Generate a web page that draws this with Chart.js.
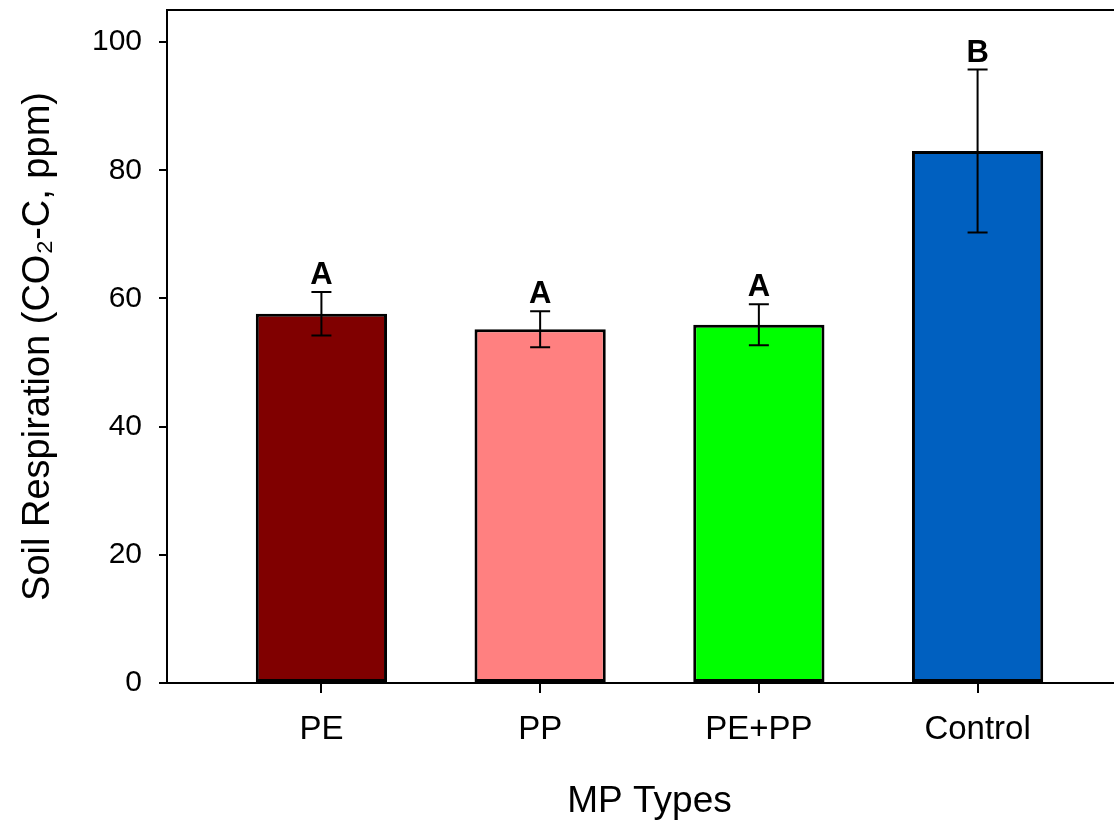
<!DOCTYPE html>
<html lang="en">
<head>
    <meta charset="UTF-8">
    <title>Soil Respiration by MP Type</title>
    <style>
        html, body {
            margin: 0;
            padding: 0;
            background: white;
            overflow: hidden;
        }
        #chart {
            display: block;
        }
    </style>
    <script src="https://cdn.jsdelivr.net/npm/chart.js"></script>
</head>
<body>

    <canvas id="chart" width="1132" height="827"></canvas>

    <script>
        // values
        const categories = ['PE', 'PP', 'PE+PP', 'Control'];
        const meanValues = [57.6, 55.2, 55.9, 83.0];
        const sdValues = [3.4, 2.8, 3.2, 12.7];
        const letters = ['A', 'A', 'A', 'B'];
        const barColors = ['#800000', '#ff8080', '#00ff00', '#0060c0'];
        const yTicks = [0, 20, 40, 60, 80, 100];

        const fontFamily = 'Arial, "Liberation Sans", sans-serif';

        // error bars + significance letters, drawn on top of the bars
        const errorBarPlugin = {
            id: 'errorBars',
            afterDatasetsDraw(chart) {
                const ctx = chart.ctx;
                const x = chart.scales.x;
                const y = chart.scales.y;
                ctx.save();
                ctx.strokeStyle = '#000';
                ctx.lineWidth = 2;
                ctx.fillStyle = '#000';
                ctx.font = 'bold 31px ' + fontFamily;
                ctx.textAlign = 'center';
                ctx.textBaseline = 'alphabetic';
                meanValues.forEach((m, i) => {
                    const px = x.getPixelForValue(i + 1);
                    const top = y.getPixelForValue(m + sdValues[i]);
                    const bot = y.getPixelForValue(m - sdValues[i]);
                    ctx.beginPath();
                    ctx.moveTo(px, top);
                    ctx.lineTo(px, bot);
                    ctx.moveTo(px - 10, top);
                    ctx.lineTo(px + 10, top);
                    ctx.moveTo(px - 10, bot);
                    ctx.lineTo(px + 10, bot);
                    ctx.stroke();
                    ctx.fillText(letters[i], px, top - 8);
                });
                // top frame line
                const area = chart.chartArea;
                ctx.beginPath();
                ctx.moveTo(area.left, area.top);
                ctx.lineTo(area.right, area.top);
                ctx.stroke();
                ctx.restore();
            }
        };

        new Chart(document.getElementById('chart'), {
            type: 'bar',
            data: {
                datasets: [{
                    data: meanValues.map((v, i) => ({ x: i + 1, y: v })),
                    backgroundColor: barColors,
                    borderColor: '#000',
                    borderWidth: 3,
                    borderSkipped: false,
                    barPercentage: 0.6,
                    categoryPercentage: 1.0
                }]
            },
            options: {
                responsive: false,
                animation: false,
                events: [],
                layout: { padding: { top: 10, left: 0, right: 0, bottom: 0 } },
                plugins: {
                    legend: { display: false },
                    tooltip: { enabled: false }
                },
                scales: {
                    x: {
                        type: 'linear',
                        offset: false,
                        min: 0.294,
                        max: 4.706,
                        afterBuildTicks: (scale) => {
                            scale.ticks = categories.map((_, i) => ({ value: i + 1 }));
                        },
                        afterFit: (scale) => {
                            scale.height = 144;
                            scale.paddingLeft = 0;
                            scale.paddingRight = 0;
                        },
                        ticks: {
                            color: '#000',
                            font: { family: fontFamily, size: 33 },
                            padding: 17,
                            maxRotation: 0,
                            autoSkip: false,
                            callback: (v) => categories[v - 1]
                        },
                        grid: {
                            offset: false,
                            drawOnChartArea: false,
                            color: '#000',
                            lineWidth: 2,
                            tickLength: 10
                        },
                        border: { color: '#000', width: 2 },
                        title: {
                            display: true,
                            text: 'MP Types',
                            color: '#000',
                            font: { family: fontFamily, size: 37 },
                            padding: { top: 4, bottom: 3 }
                        }
                    },
                    y: {
                        min: 0,
                        max: 105,
                        afterBuildTicks: (scale) => {
                            scale.ticks = yTicks.map(v => ({ value: v }));
                        },
                        afterFit: (scale) => {
                            scale.width = 167;
                            scale.paddingTop = 0;
                            scale.paddingBottom = 0;
                        },
                        ticks: {
                            color: '#000',
                            font: { family: fontFamily, size: 30 },
                            padding: 17
                        },
                        grid: {
                            drawOnChartArea: false,
                            color: '#000',
                            lineWidth: 2,
                            tickLength: 8
                        },
                        border: { color: '#000', width: 2 },
                        title: {
                            display: true,
                            text: 'Soil Respiration (CO\u2082-C, ppm)',
                            color: '#000',
                            font: { family: fontFamily, size: 38 },
                            padding: { top: 16, bottom: 0 }
                        }
                    }
                }
            },
            plugins: [errorBarPlugin]
        });
    </script>

</body>
</html>
